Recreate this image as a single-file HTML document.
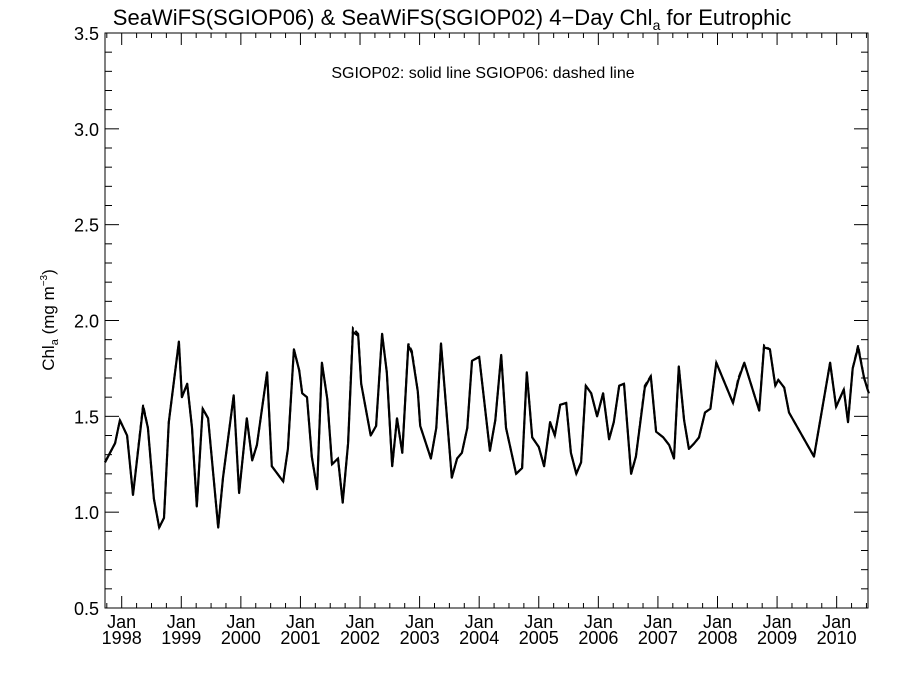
<!DOCTYPE html>
<html><head><meta charset="utf-8"><style>
body{margin:0;background:#fff;}
svg{display:block;font-family:"Liberation Sans",sans-serif;}
</style></head><body>
<svg id="chart" width="900" height="675">
<text x="452" y="25" font-size="22" text-anchor="middle">SeaWiFS(SGIOP06) &amp; SeaWiFS(SGIOP02) 4−Day Chl<tspan font-size="14" dy="5">a</tspan><tspan dy="-5"> for Eutrophic</tspan></text>
<text x="483" y="78" font-size="16" text-anchor="middle">SGIOP02: solid line   SGIOP06: dashed line</text>
<text transform="translate(54,320) rotate(-90)" font-size="17" text-anchor="middle">Chl<tspan font-size="11" dy="4">a</tspan><tspan dy="-4"> (mg m</tspan><tspan font-size="10" dy="-7">−3</tspan><tspan dy="7">)</tspan></text>
<g id="axes"></g>
<g id="series"></g>
</svg>
<script>
const years=[1997.72,1997.89,1997.97,1998.09,1998.19,1998.36,1998.44,1998.54,1998.63,1998.71,1998.79,1998.96,1999.01,1999.10,1999.18,1999.26,1999.36,1999.45,1999.62,1999.70,1999.88,1999.97,2000.10,2000.19,2000.27,2000.44,2000.52,2000.71,2000.79,2000.89,2000.98,2001.03,2001.11,2001.19,2001.28,2001.36,2001.45,2001.53,2001.63,2001.71,2001.80,2001.88,2001.97,2002.02,2002.18,2002.27,2002.37,2002.45,2002.54,2002.62,2002.71,2002.81,2002.87,2002.97,2003.01,2003.19,2003.28,2003.36,2003.54,2003.63,2003.71,2003.80,2003.88,2004.00,2004.18,2004.27,2004.37,2004.45,2004.62,2004.72,2004.80,2004.89,2005.00,2005.09,2005.19,2005.27,2005.36,2005.46,2005.54,2005.63,2005.71,2005.79,2005.88,2005.98,2006.08,2006.18,2006.26,2006.35,2006.43,2006.55,2006.63,2006.78,2006.88,2006.97,2007.09,2007.19,2007.27,2007.35,2007.44,2007.52,2007.61,2007.69,2007.79,2007.88,2007.98,2008.26,2008.35,2008.45,2008.70,2008.78,2008.88,2008.97,2009.02,2009.12,2009.20,2009.62,2009.89,2009.99,2010.12,2010.19,2010.27,2010.36,2010.46,2010.54];
const sgiop02=[1.26,1.36,1.48,1.40,1.09,1.55,1.44,1.07,0.92,0.97,1.47,1.89,1.60,1.67,1.44,1.03,1.54,1.49,0.92,1.18,1.61,1.10,1.49,1.27,1.35,1.73,1.24,1.16,1.33,1.85,1.74,1.62,1.60,1.29,1.12,1.78,1.59,1.25,1.28,1.05,1.36,1.94,1.92,1.67,1.40,1.45,1.93,1.73,1.24,1.49,1.31,1.87,1.83,1.63,1.45,1.28,1.44,1.88,1.18,1.28,1.31,1.44,1.79,1.81,1.32,1.48,1.82,1.44,1.20,1.23,1.73,1.39,1.34,1.24,1.47,1.40,1.56,1.57,1.31,1.20,1.26,1.66,1.62,1.50,1.62,1.38,1.47,1.66,1.67,1.20,1.29,1.65,1.71,1.42,1.39,1.35,1.28,1.76,1.48,1.33,1.36,1.39,1.52,1.54,1.78,1.57,1.69,1.78,1.53,1.86,1.85,1.66,1.69,1.65,1.52,1.29,1.78,1.55,1.64,1.47,1.75,1.86,1.70,1.62];
const sgiop06=[1.26,1.36,1.48,1.40,1.09,1.56,1.44,1.07,0.92,0.97,1.47,1.89,1.60,1.67,1.44,1.03,1.54,1.49,0.92,1.18,1.61,1.10,1.49,1.27,1.35,1.73,1.24,1.16,1.33,1.85,1.74,1.62,1.60,1.29,1.12,1.78,1.59,1.25,1.28,1.05,1.36,1.96,1.93,1.67,1.40,1.45,1.93,1.73,1.24,1.49,1.31,1.88,1.84,1.63,1.45,1.28,1.44,1.88,1.18,1.28,1.31,1.44,1.79,1.81,1.32,1.48,1.82,1.44,1.20,1.23,1.73,1.39,1.34,1.24,1.47,1.40,1.56,1.57,1.31,1.20,1.26,1.66,1.62,1.50,1.62,1.38,1.47,1.66,1.67,1.20,1.29,1.66,1.71,1.42,1.39,1.35,1.28,1.76,1.48,1.33,1.36,1.39,1.52,1.54,1.78,1.57,1.70,1.78,1.53,1.87,1.85,1.66,1.69,1.65,1.52,1.29,1.78,1.55,1.64,1.47,1.75,1.87,1.70,1.62];
const yTicks=[0.5,1.0,1.5,2.0,2.5,3.0,3.5];
const yTickLabels=["0.5","1.0","1.5","2.0","2.5","3.0","3.5"];
const xTickYears=[1998,1999,2000,2001,2002,2003,2004,2005,2006,2007,2008,2009,2010];

const L=105,R=868,T=33,B=608;
const x=t=>121.7+(t-1998)*59.58;
const y=v=>B-(v-0.5)*(B-T)/3;
const NS="http://www.w3.org/2000/svg";
function mk(tag,attrs,parent){const e=document.createElementNS(NS,tag);for(const k in attrs)e.setAttribute(k,attrs[k]);parent.appendChild(e);return e;}
const ax=document.getElementById('axes');
const frame=mk('rect',{x:L,y:T,width:R-L,height:B-T,fill:'none',stroke:'#000','stroke-width':1},ax);


// y ticks
for(let v=0.5;v<=3.5001;v+=0.1){
  const major=Math.abs(v*2-Math.round(v*2))<1e-6;
  const len=major?14:7, yy=y(v);
  const t1=mk('line',{x1:L,x2:L+len,y1:yy,y2:yy,stroke:'#000','stroke-width':1},ax);
  
  
  const t2=mk('line',{x1:R,x2:R-len,y1:yy,y2:yy,stroke:'#000','stroke-width':1},ax);
  
  
}
yTicks.forEach((v,i)=>{
  const t=mk('text',{x:L-6,y:y(v)+7,'font-size':18,'text-anchor':'end'},ax);
  t.textContent=yTickLabels[i];
  
  
});
// x ticks
for(let q=1997.75;q<=2010.55;q+=0.25){
  const xx=x(q); if(xx<L||xx>R) continue;
  const major=Math.abs(q-Math.round(q))<1e-6;
  const len=major?12:5;
  const t1=mk('line',{x1:xx,x2:xx,y1:B,y2:B-len,stroke:'#000','stroke-width':1},ax);
  
  
  const t2=mk('line',{x1:xx,x2:xx,y1:T,y2:T+len,stroke:'#000','stroke-width':1},ax);
  
  
}
xTickYears.forEach(yr=>{
  const t=mk('text',{x:x(yr),y:628,'font-size':18,'text-anchor':'middle'},ax);
  t.textContent='Jan';
  
  
  const t2=mk('text',{x:x(yr),y:644,'font-size':18,'text-anchor':'middle'},ax);
  t2.textContent=String(yr);
  
  
});
const sg=document.getElementById('series');
const pts=a=>years.map((t,i)=>x(t).toFixed(1)+','+y(a[i]).toFixed(1)).join(' ');
const d6=mk('polyline',{points:pts(sgiop06),fill:'none',stroke:'#000','stroke-width':2,'stroke-dasharray':'6,3'},sg);


const d2=mk('polyline',{points:pts(sgiop02),fill:'none',stroke:'#000','stroke-width':2.2,'stroke-linejoin':'round'},sg);


</script>
</body></html>
